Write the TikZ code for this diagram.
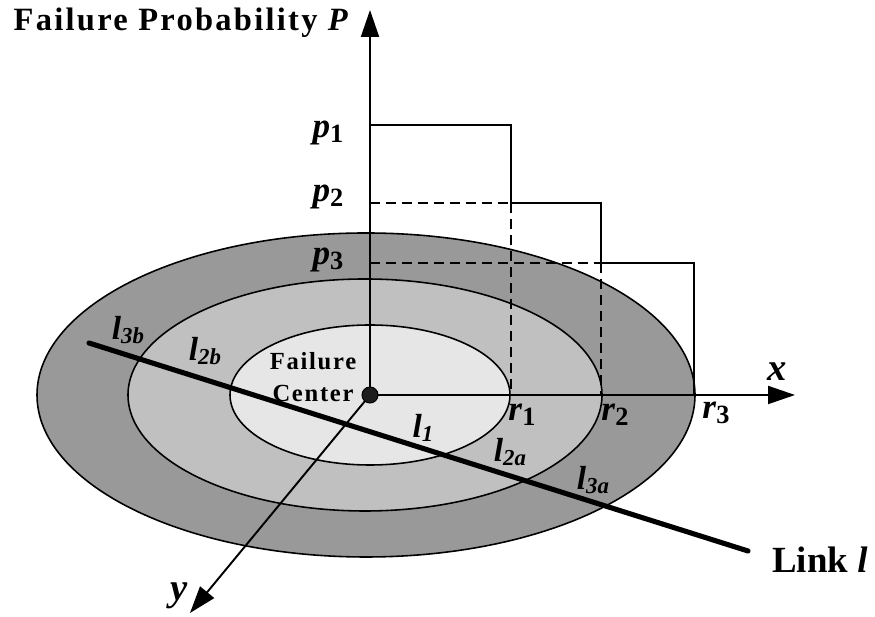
\documentclass[tikz,border=0pt]{standalone}
\usepackage{fontspec}
\setmainfont{Liberation Serif}
\newfontfamily\widefont[LetterSpace=7]{Liberation Serif}
\usetikzlibrary{arrows.meta}
\definecolor{ringouter}{HTML}{999999}
\definecolor{ringmid}{HTML}{C0C0C0}
\definecolor{ringinner}{HTML}{E6E6E6}
\definecolor{centerdot}{HTML}{1C1C1C}
\newcommand{\rsub}[2]{\textbf{\textit{#1}}\raisebox{-0.3ex}{\fontsize{15}{15}\selectfont\textbf{#2}}}
\newcommand{\isub}[2]{\textbf{\textit{#1}}\raisebox{-0.3ex}{\fontsize{13}{13}\selectfont\textbf{\textit{#2}}}}
\tikzset{zone/.style={fill=#1, draw=black, line width=0.9pt},
  axisline/.style={line width=1.1pt, -{Triangle[length=5.4mm,width=3.6mm]}},
  stepline/.style={line width=0.9pt},
  guide/.style={line width=0.9pt, dash pattern=on 0.2cm off 0.12cm},
  mlabel/.style={font=\fontsize{20}{24}\selectfont, inner sep=0pt}}

\begin{document}
\begin{tikzpicture}[x=0.02cm, y=0.02cm]
\useasboundingbox (0,0) rectangle (875,617);
% rings round the failure centre
\draw[zone=ringouter] (366,222) ellipse [x radius=329, y radius=162];
\draw[zone=ringmid] (365,222) ellipse [x radius=237, y radius=116];
\draw[zone=ringinner] (370,222) ellipse [x radius=140, y radius=70];

\coordinate (O) at (370,222);
\coordinate (Ptop) at (370,607);
\coordinate (Xend) at (795,222);
\coordinate (Yend) at (190,4);
\coordinate (A1) at (370,492); \coordinate (B1) at (511,492);
\coordinate (A2) at (370,414); \coordinate (B2) at (511,414); \coordinate (C2) at (601,414);
\coordinate (A3) at (370,354); \coordinate (C3) at (601,354); \coordinate (D3) at (694,354);
\coordinate (R1) at (511,222); \coordinate (R2) at (601,222); \coordinate (R3) at (694,222);
\coordinate (Lstart) at (89,274); \coordinate (Lend) at (748,66);

% axes
\draw[axisline] (O) -- (Ptop);
\draw[axisline] (O) -- (Xend);
\draw[axisline] (O) -- (Yend);

% step profile of the probability
\draw[stepline] (A1) -- (B1) -- (B2);
\draw[guide] (B2) -- (R1);
\draw[guide] (A2) -- (B2);
\draw[stepline] (B2) -- (C2) -- (C3);
\draw[guide] (C3) -- (R2);
\draw[guide] (A3) -- (C3);
\draw[stepline] (C3) -- (D3) -- (R3);

% link
\draw[line width=2.9pt, line cap=round] (Lstart) -- (Lend);
\fill[centerdot, draw=black, line width=0.6pt] (O) circle (8);

\node[font=\widefont\fontsize{18.5}{22}\selectfont\bfseries, inner sep=0pt] (title) at (182,594) {Failure Probability \textit{P}};
\node[mlabel] (lp1) at (328,484) {\rsub{p}{1}};
\node[mlabel] (lp2) at (328,420) {\rsub{p}{2}};
\node[mlabel] (lp3) at (328,357) {\rsub{p}{3}};
\node[mlabel] (lr1) at (522,202) {\rsub{r}{1}};
\node[mlabel] (lr2) at (615,202) {\rsub{r}{2}};
\node[mlabel] (lr3) at (716,204) {\rsub{r}{3}};
\node[mlabel, font=\fontsize{22}{24}\selectfont] (lx) at (777,245) {\textbf{\textit{x}}};
\node[mlabel, font=\fontsize{22}{24}\selectfont] (ly) at (179,21) {\textbf{\textit{y}}};
\node[mlabel, font=\fontsize{19}{24}\selectfont] (l3b) at (128,287) {\isub{l}{3b}};
\node[mlabel, font=\fontsize{19}{24}\selectfont] (l2b) at (205,266) {\isub{l}{2b}};
\node[mlabel, font=\fontsize{19}{24}\selectfont] (l1) at (423,189) {\isub{l}{1}};
\node[mlabel, font=\fontsize{19}{24}\selectfont] (l2a) at (510,165) {\isub{l}{2a}};
\node[mlabel, font=\fontsize{19}{24}\selectfont] (l3a) at (593,137) {\isub{l}{3a}};
\node[font=\fontsize{21}{24}\selectfont\bfseries, inner sep=0pt] (link) at (820,57) {Link \textit{l}};
\node[font=\widefont\fontsize{14}{18}\selectfont\bfseries, align=center, inner sep=0pt] (fc) at (313,240) {Failure\\Center};
\end{tikzpicture}
\end{document}
